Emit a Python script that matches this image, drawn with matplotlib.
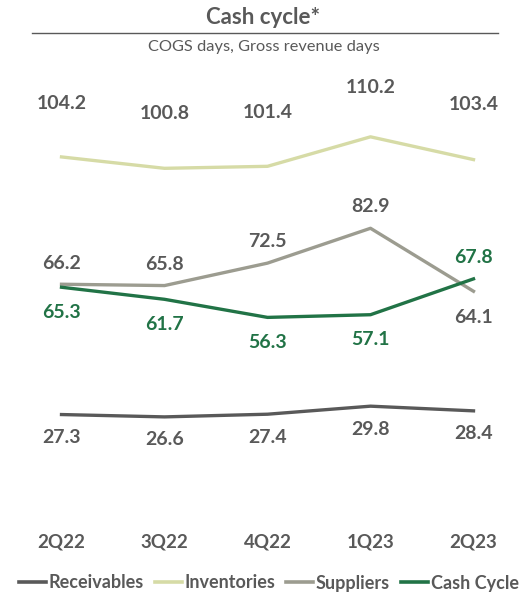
import matplotlib.pyplot as plt
from matplotlib.lines import Line2D

quarters = ['2Q22', '3Q22', '4Q22', '1Q23', '2Q23']
receivables = [27.3, 26.6, 27.4, 29.8, 28.4]
inventories = [104.2, 100.8, 101.4, 110.2, 103.4]
suppliers = [66.2, 65.8, 72.5, 82.9, 64.1]
cash_cycle = [65.3, 61.7, 56.3, 57.1, 67.8]

c_rec = '#595959'
c_inv = '#D6DBA6'
c_sup = '#9C9C90'
c_cash = '#217346'
c_text = '#595959'

plt.rcParams['font.family'] = ['Lato', 'DejaVu Sans']

fig = plt.figure(figsize=(5.27, 5.94), dpi=100)
ax = fig.add_axes([10 / 527, 88 / 594, 515 / 527, 402 / 594])

x = range(len(quarters))
ax.plot(x, receivables, color=c_rec, lw=2.4, label='Receivables')
ax.plot(x, inventories, color=c_inv, lw=2.4, label='Inventories')
ax.plot(x, suppliers, color=c_sup, lw=2.4, label='Suppliers')
ax.plot(x, cash_cycle, color=c_cash, lw=2.4, label='Cash Cycle')

def put_labels(vals, offsets, color):
    for i, v in enumerate(vals):
        ax.annotate(f'{v:.1f}', (i, v), xytext=(0, offsets[i]),
                    textcoords='offset pixels', ha='center', va='center',
                    fontsize=14, fontweight='bold', color=color)

put_labels(inventories, [53, 55, 54, 49, 55], c_text)
put_labels(receivables, [-23] * 5, c_text)
put_labels(suppliers, [21, 21, 22, 22, -26], c_text)
put_labels(cash_cycle, [-25, -25, -25, -25, 21], c_cash)

ax.set_xlim(-0.5, 4.5)
ax.set_ylim(0, 120)
ax.set_xticks(list(x))
ax.set_xticklabels(quarters, fontsize=13.5, fontweight='bold', color=c_text)
ax.tick_params(axis='x', length=0, pad=20)
ax.set_yticks([])
for s in ax.spines.values():
    s.set_visible(False)

fig.text(0.5, 1 - 17 / 594, 'Cash cycle*', ha='center', va='center',
         fontsize=16, fontweight='bold', color=c_text)
fig.add_artist(Line2D([32 / 527, 498 / 527], [1 - 33 / 594, 1 - 33 / 594],
                      color='#595959', lw=1.0))
fig.text(0.5, 1 - 47 / 594, 'COGS days, Gross revenue days', ha='center',
         va='center', fontsize=11.8, color=c_text)

leg = fig.legend(loc='center', bbox_to_anchor=(0.51, 1 - 583 / 594), ncol=4,
                 frameon=False, handlelength=1.5, handletextpad=0.15,
                 columnspacing=0.6, prop={'size': 13, 'weight': 'bold'})
for t in leg.get_texts():
    t.set_color(c_text)
for h in leg.get_lines():
    h.set_linewidth(2.6)

fig.savefig('out.png', dpi=100)
